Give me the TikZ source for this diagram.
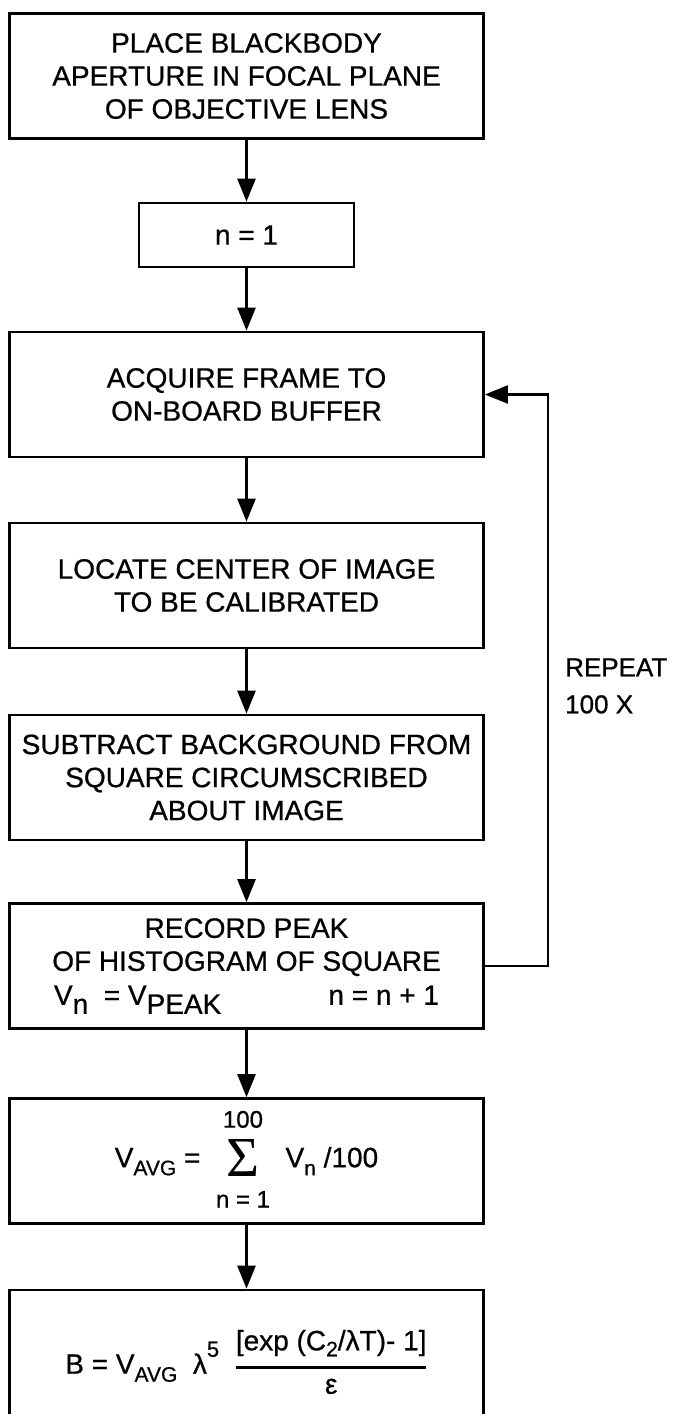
\documentclass[tikz,border=0pt]{standalone}
\usepackage{fontspec}
\setmainfont{Liberation Sans}[UprightFeatures={FakeBold=0.7}]
\newfontfamily\sigmafont{Liberation Serif}
\usepackage{amsmath}
\usepackage{graphicx}
\usetikzlibrary{arrows.meta}
\newcommand{\lowsub}[1]{\raisebox{-8pt}{\fontsize{21}{21}\selectfont #1}}
\newcommand{\fullsub}[1]{\raisebox{-9pt}{#1}}
\newcommand{\limtxt}[1]{{\fontsize{24}{24}\selectfont #1}}
\tikzset{
  stepbox/.style={draw, line width=2.7pt, minimum width=474pt, minimum height=125pt,
    align=center, inner sep=0pt, font=\fontsize{28}{33}\selectfont},
  smallbox/.style={stepbox, minimum width=215pt, minimum height=64pt},
  formula/.style={inner sep=0pt, font=\fontsize{28}{33}\selectfont},
  flow/.style={line width=2.5pt, -{Triangle[length=23pt,width=18pt]}},
  loopline/.style={line width=2.1pt, -{Triangle[length=23pt,width=18pt]}},
  note/.style={anchor=west, align=left, inner sep=0pt, font=\fontsize{26}{37}\selectfont},
}
\begin{document}
\begin{tikzpicture}[x=1pt,y=-1pt]
\useasboundingbox (0,0) rectangle (681,1414);
\clip (0,0) rectangle (681,1414);

\node[stepbox] (b1) at (246.5,76) {PLACE BLACKBODY\\APERTURE IN FOCAL PLANE\\OF OBJECTIVE LENS};
\node[smallbox] (b2) at (246.5,235) {n = 1};
\node[stepbox] (b3) at (246.5,394.5) {ACQUIRE FRAME TO\\ON-BOARD BUFFER};
\node[stepbox] (b4) at (246.5,585.5) {LOCATE CENTER OF IMAGE\\TO BE CALIBRATED};
\node[stepbox] (b5) at (246.5,777.5) {SUBTRACT BACKGROUND FROM\\SQUARE CIRCUMSCRIBED\\ABOUT IMAGE};
\node[stepbox] (b6) at (246.5,966) {RECORD PEAK\\OF HISTOGRAM OF SQUARE\\[1pt]
  \makebox[385pt]{V\fullsub{n}\ \ = V\fullsub{PEAK}\hfill n = n + 1}};
\node[stepbox] (b7) at (246.5,1161) {V\lowsub{AVG} = \ \begin{tabular}[c]{@{}c@{}}\limtxt{100}\\[2pt]
  \resizebox{33pt}{37pt}{\sigmafont Σ}\\[-2pt]\limtxt{n = 1}\end{tabular}\ \ V\lowsub{n} /100};
\node[stepbox] (b8) at (246.5,1352.5) {};
\node[formula] (b8f) at (246.5,1362) {B = V\lowsub{AVG}\ \ λ\raisebox{17pt}{\fontsize{22}{22}\selectfont 5}\ \ $\genfrac{}{}{3.2pt}{0}{\text{[exp (C\raisebox{-6pt}{\fontsize{21}{21}\selectfont 2}/λT)- 1]}}{\text{ε}}$};

\coordinate (fb) at (548,0);
\node[note] (rep) at (565,686) {REPEAT\\100 X};

\draw[flow] (b1) -- (b2);
\draw[flow] (b2) -- (b3);
\draw[flow] (b3) -- (b4);
\draw[flow] (b4) -- (b5);
\draw[flow] (b5) -- (b6);
\draw[flow] (b6) -- (b7);
\draw[flow] (b7) -- (b8);
\draw[loopline] (b6.east) -- (b6.east -| fb) -- (b3.east -| fb) -- (b3.east);
\end{tikzpicture}
\end{document}
